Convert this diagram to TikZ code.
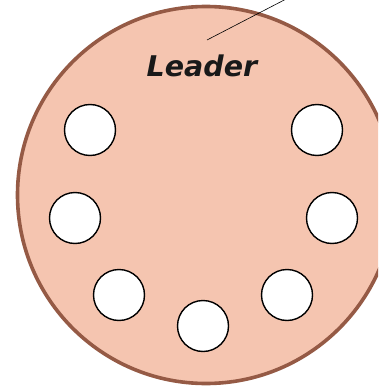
\documentclass[tikz,border=0pt]{standalone}
\usepackage{fontspec}
\newfontfamily\leaderfont{DejaVu Sans}
\definecolor{discfill}{HTML}{F5C5B0}
\definecolor{discedge}{HTML}{955A45}
\begin{document}
\begin{tikzpicture}[x=1pt,y=-1pt,
  seat/.style={circle,draw=black,line width=1.4pt,fill=white,minimum size=51pt,inner sep=0pt},
  disc/.style={circle,draw=discedge,line width=3.6pt,fill=discfill,minimum size=377pt,inner sep=0pt}]
\useasboundingbox (0,0) rectangle (378,390);
\clip (0,0) rectangle (378,390);
\node[disc] (table) at (206,195) {};
\node[seat] (s1) at (90,130) {};
\node[seat] (s2) at (317,130) {};
\node[seat] (s3) at (75,218) {};
\node[seat] (s4) at (332,218) {};
\node[seat] (s5) at (119,295) {};
\node[seat] (s6) at (287,295) {};
\node[seat] (s7) at (203,326) {};
\node[font=\leaderfont\bfseries\itshape\fontsize{28.5}{32}\selectfont,text=black!90] (leader) at (202,65.5) {Leader};
\coordinate (tip) at (207,40);
\coordinate (far) at (290,-3);
\draw[line width=0.6pt] (tip) -- (far);
\end{tikzpicture}
\end{document}
